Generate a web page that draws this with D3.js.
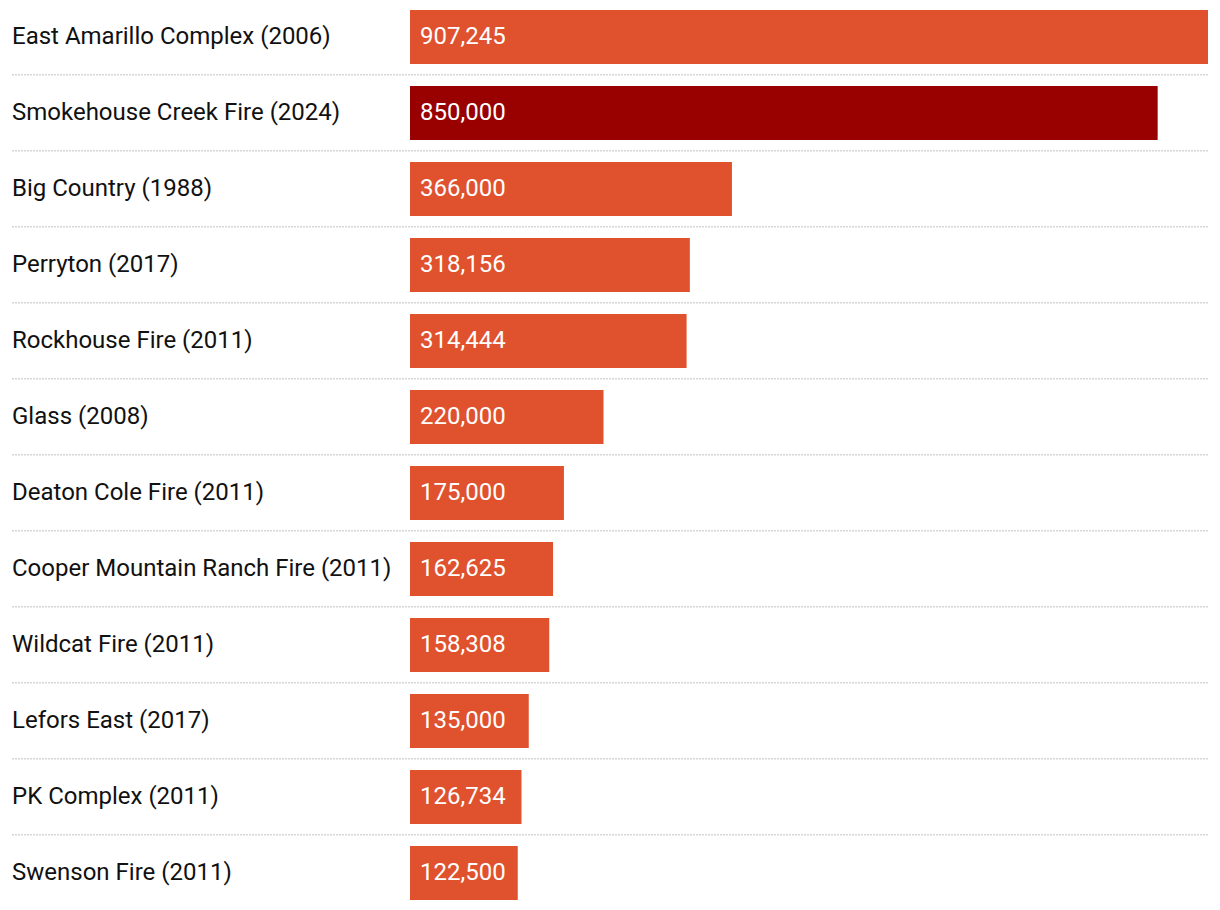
<!DOCTYPE html>
<html>
<head>
<meta charset="utf-8">
<script src="https://cdn.jsdelivr.net/npm/d3@7"></script>
<style>
  html, body { margin: 0; padding: 0; background: #fff; }
  svg { display: block; font-family: Roboto, "Noto Sans", sans-serif; }
</style>
</head>
<body>
<svg id="chart" width="1220" height="910"></svg>
<script>
const fires = [
  "East Amarillo Complex (2006)",
  "Smokehouse Creek Fire (2024)",
  "Big Country (1988)",
  "Perryton (2017)",
  "Rockhouse Fire (2011)",
  "Glass (2008)",
  "Deaton Cole Fire (2011)",
  "Cooper Mountain Ranch Fire (2011)",
  "Wildcat Fire (2011)",
  "Lefors East (2017)",
  "PK Complex (2011)",
  "Swenson Fire (2011)"
];
const acres = [907245, 850000, 366000, 318156, 314444, 220000, 175000, 162625, 158308, 135000, 126734, 122500];
const highlighted = ["Smokehouse Creek Fire (2024)"];

const data = fires.map((f, i) => ({ name: f, value: acres[i] }));

const svg = d3.select("#chart");
const x = d3.scaleLinear().domain([0, d3.max(acres)]).range([410, 1208]);
const y = d3.scaleBand().domain(fires).range([0, 912]).padding(0);
const barTop = 10, barH = 54;
const fmt = d3.format(",");

// separators
svg.append("g").selectAll("line")
  .data(fires.slice(0, -1))
  .join("line")
  .attr("x1", 12).attr("x2", 1208)
  .attr("y1", d => y(d) + y.bandwidth() - 1.25)
  .attr("y2", d => y(d) + y.bandwidth() - 1.25)
  .attr("stroke", "#d6d6d6")
  .attr("stroke-width", 1.5)
  .attr("stroke-dasharray", "2,1");

const row = svg.append("g").selectAll("g")
  .data(data)
  .join("g");

row.append("rect")
  .attr("x", x(0))
  .attr("y", d => y(d.name) + barTop)
  .attr("width", d => x(d.value) - x(0))
  .attr("height", barH)
  .attr("fill", d => highlighted.includes(d.name) ? "#990000" : "#E0512E");

row.append("text")
  .attr("x", 12)
  .attr("y", d => y(d.name) + barTop + barH / 2 - 1)
  .attr("dy", "0.35em")
  .attr("font-size", 24)
  .attr("fill", "#111")
  .text(d => d.name);

row.append("text")
  .attr("x", x(0) + 10)
  .attr("y", d => y(d.name) + barTop + barH / 2 - 1)
  .attr("dy", "0.35em")
  .attr("font-size", 24)
  .attr("fill", "#fff")
  .text(d => fmt(d.value));
</script>
</body>
</html>
